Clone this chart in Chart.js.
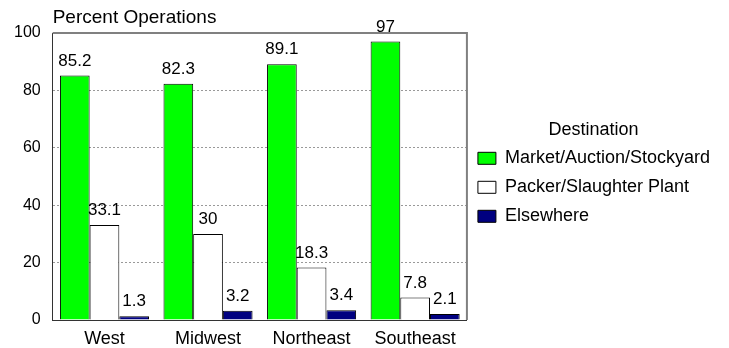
<!DOCTYPE html>
<html>
<head>
<meta charset="utf-8">
<script src="https://cdn.jsdelivr.net/npm/chart.js@4"></script>
<style>
  html, body { margin: 0; padding: 0; background: #fff; }
  canvas { display: block; }
</style>
</head>
<body>
<canvas id="chart" width="729" height="348"></canvas>
<script>
const categories = ['West', 'Midwest', 'Northeast', 'Southeast'];
const seriesNames = ['Market/Auction/Stockyard', 'Packer/Slaughter Plant', 'Elsewhere'];
const marketValues = [85.2, 82.3, 89.1, 97];
const packerValues = [33.1, 30, 18.3, 7.8];
const elsewhereValues = [1.3, 3.2, 3.4, 2.1];
const seriesColors = ['#00ff00', '#ffffff', '#000080'];
const yTicks = [0, 20, 40, 60, 80, 100];
const yTitle = 'Percent Operations';
const legendTitle = 'Destination';

const FONT = '"Liberation Sans", Arial, sans-serif';
Chart.defaults.font.family = FONT;
Chart.defaults.color = '#000';

// frame, value labels and the top-left axis caption
const extras = {
  id: 'extras',
  afterLayout(chart) {
    // lift the legend block a little, as in the original
    chart.legend.top -= 17;
    chart.legend.bottom -= 17;
  },
  afterDatasetsDraw(chart) {
    const { ctx, chartArea: a } = chart;
    ctx.save();
    // grey top and right border
    ctx.strokeStyle = '#808080';
    ctx.lineWidth = 2;
    ctx.beginPath();
    ctx.moveTo(a.left, a.top);
    ctx.lineTo(a.right, a.top);
    ctx.lineTo(a.right, a.bottom);
    ctx.stroke();

    ctx.fillStyle = '#000';
    ctx.font = '17px ' + FONT;
    ctx.textAlign = 'center';
    ctx.textBaseline = 'bottom';
    chart.data.datasets.forEach((ds, i) => {
      chart.getDatasetMeta(i).data.forEach((bar, j) => {
        ctx.fillText(String(ds.data[j]), bar.x, bar.y - 6);
      });
    });

    ctx.font = '19px ' + FONT;
    ctx.textAlign = 'left';
    ctx.textBaseline = 'middle';
    ctx.fillText(yTitle, a.left, 18);
    ctx.restore();
  }
};

const valueLists = [marketValues, packerValues, elsewhereValues];

new Chart(document.getElementById('chart'), {
  type: 'bar',
  data: {
    labels: categories,
    datasets: seriesNames.map((name, i) => ({
      label: name,
      data: valueLists[i],
      backgroundColor: seriesColors[i],
      borderColor: '#000',
      borderWidth: 1,
      categoryPercentage: 0.86,
      barPercentage: 1,
    })),
  },
  options: {
    responsive: false,
    animation: false,
    layout: { padding: { top: 33, right: 9, left: 2, bottom: -10 } },
    scales: {
      x: {
        grid: { display: false, drawTicks: false },
        border: { color: '#333', width: 1 },
        ticks: { font: { size: 18, lineHeight: 1 }, color: '#000', maxRotation: 0, padding: 10 },
      },
      y: {
        min: 0,
        max: 100,
        afterBuildTicks(axis) {
          axis.ticks = yTicks.map(v => ({ value: v }));
        },
        grid: {
          drawTicks: false,
          color: (c) => (c.tick && (c.tick.value === 0 || c.tick.value === 100)) ? 'rgba(0,0,0,0)' : '#999',
        },
        border: { color: '#333', width: 1, dash: [2, 2] },
        ticks: { font: { size: 16 }, color: '#000', padding: 12 },
      },
    },
    plugins: {
      legend: {
        position: 'right',
        maxWidth: 270,
        title: { display: true, text: legendTitle, color: '#000', font: { size: 18 }, padding: { top: 0, bottom: -4 } },
        labels: {
          font: { size: 18 },
          color: '#000',
          boxWidth: 18,
          boxHeight: 12,
          padding: 11,
        },
      },
      tooltip: { enabled: false },
    },
  },
  plugins: [extras],
});
</script>
</body>
</html>
